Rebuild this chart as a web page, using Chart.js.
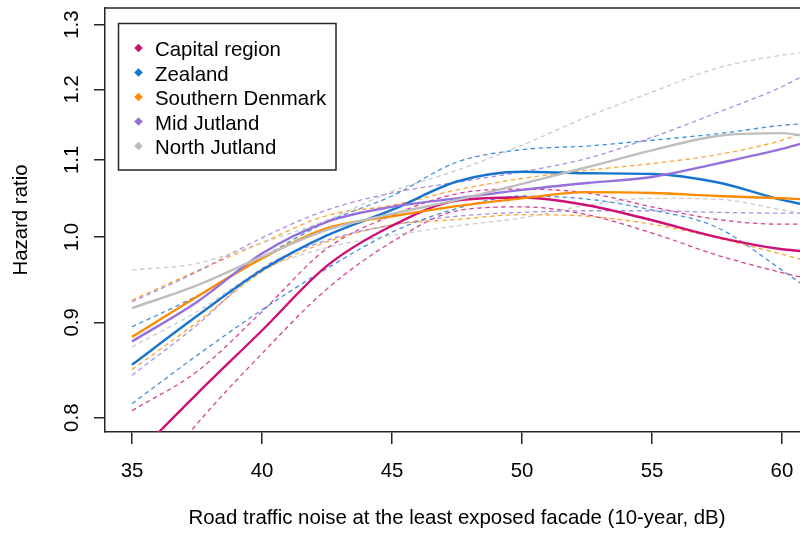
<!DOCTYPE html>
<html>
<head>
<meta charset="utf-8">
<script src="https://cdn.jsdelivr.net/npm/chart.js@4/dist/chart.umd.min.js"></script>
<style>
  html, body { margin: 0; padding: 0; background: #ffffff; overflow: hidden; }
  #wrap { width: 800px; height: 536px; overflow: hidden; }
  canvas { display: block; }
</style>
</head>
<body>
<div id="wrap"><canvas id="chart" width="809" height="536"></canvas></div>
<script>
// Road traffic noise (dB) at which the spline curves are evaluated
const noise = [35, 37.5, 40, 42.5, 45, 47.5, 50, 52.5, 55, 57.5, 60, 60.7];

// Hazard ratios: estimate with lower / upper 95% limits, per region
const capitalEst  = [0.760, 0.824, 0.891, 0.965, 1.014, 1.046, 1.050, 1.040, 1.021, 1.000, 0.985, 0.983];
const capitalLow  = [0.719, 0.794, 0.866, 0.938, 0.994, 1.033, 1.038, 1.028, 1.005, 0.978, 0.957, 0.952];
const capitalHigh = [0.807, 0.847, 0.912, 0.986, 1.027, 1.055, 1.061, 1.056, 1.038, 1.022, 1.016, 1.016];

const zealandEst  = [0.854, 0.907, 0.960, 1.002, 1.034, 1.071, 1.084, 1.082, 1.081, 1.070, 1.047, 1.042];
const zealandLow  = [0.814, 0.864, 0.914, 0.962, 1.006, 1.036, 1.052, 1.048, 1.034, 1.012, 0.960, 0.945];
const zealandHigh = [0.895, 0.930, 0.975, 1.019, 1.052, 1.097, 1.114, 1.119, 1.127, 1.136, 1.148, 1.150];

const southEst  = [0.884, 0.929, 0.974, 1.011, 1.026, 1.039, 1.049, 1.057, 1.056, 1.052, 1.049, 1.048];
const southLow  = [0.849, 0.900, 0.958, 0.994, 1.015, 1.022, 1.028, 1.026, 1.016, 0.999, 0.979, 0.973];
const southHigh = [0.925, 0.959, 0.993, 1.027, 1.040, 1.060, 1.075, 1.086, 1.095, 1.107, 1.127, 1.136];

const midEst  = [0.879, 0.923, 0.980, 1.019, 1.038, 1.049, 1.060, 1.069, 1.077, 1.095, 1.115, 1.122];
const midLow  = [0.843, 0.897, 0.962, 0.996, 1.015, 1.026, 1.031, 1.033, 1.033, 1.031, 1.030, 1.030];
const midHigh = [0.923, 0.958, 0.999, 1.034, 1.056, 1.070, 1.084, 1.102, 1.131, 1.166, 1.204, 1.218];

const northEst  = [0.916, 0.942, 0.976, 1.009, 1.029, 1.047, 1.068, 1.090, 1.113, 1.133, 1.137, 1.134];
const northLow  = [0.873, 0.912, 0.960, 0.987, 1.002, 1.014, 1.024, 1.040, 1.049, 1.048, 1.034, 1.030];
const northHigh = [0.960, 0.968, 0.993, 1.021, 1.058, 1.086, 1.120, 1.160, 1.196, 1.232, 1.252, 1.255];

const regionNames  = ['Capital region', 'Zealand', 'Southern Denmark', 'Mid Jutland', 'North Jutland'];
const regionColors = ['#CD1076', '#1874CD', '#FF8C00', '#9370DB', '#BEBEBE'];

const xTicks  = [35, 40, 45, 50, 55, 60];
const hrTicks = [0.8, 0.9, 1.0, 1.1, 1.2, 1.3];

const xTitle = 'Road traffic noise at the least exposed facade (10-year, dB)';
const yTitle = 'Hazard ratio';

const FONT = '"Liberation Sans", Arial, Helvetica, sans-serif';
const FONT_SIZE = 20.4;
const INK = '#262626';

const regionSeries = [
  [capitalEst, capitalLow, capitalHigh],
  [zealandEst, zealandLow, zealandHigh],
  [southEst, southLow, southHigh],
  [midEst, midLow, midHigh],
  [northEst, northLow, northHigh]
];

function toPoints(values) {
  return noise.map((x, i) => ({ x: x, y: values[i] }));
}

function withAlpha(hex, a) {
  const n = parseInt(hex.slice(1), 16);
  return 'rgba(' + (n >> 16) + ',' + ((n >> 8) & 255) + ',' + (n & 255) + ',' + a + ')';
}

const datasets = [];
regionSeries.forEach((series, r) => {
  const [est, low, high] = series;
  // solid estimate; later regions sit on top
  datasets.push({
    label: regionNames[r],
    data: toPoints(est),
    borderColor: regionColors[r],
    borderWidth: 2.4,
    order: 5 - r,
    clip: 0
  });
  [low, high].forEach(ci => {
    datasets.push({
      label: regionNames[r] + ' CI',
      data: toPoints(ci),
      borderColor: withAlpha(regionColors[r], 0.8),
      borderWidth: 1.3,
      borderDash: [4.5, 3.5],
      order: 20 - r,
      clip: 0
    });
  });
});

// Box top edge, upright y tick labels and the boxed legend
const framePlugin = {
  id: 'frame',
  afterDraw(chart) {
    const { ctx, chartArea: a, scales } = chart;
    ctx.save();
    ctx.strokeStyle = INK;
    ctx.lineWidth = 1.5;
    ctx.beginPath();
    ctx.moveTo(a.left, a.top);
    ctx.lineTo(a.right, a.top);
    ctx.stroke();

    ctx.fillStyle = '#000';
    ctx.font = FONT_SIZE + 'px ' + FONT;
    ctx.textAlign = 'center';
    ctx.textBaseline = 'alphabetic';
    hrTicks.forEach(v => {
      const py = scales.y.getPixelForValue(v);
      ctx.save();
      ctx.translate(78, py);
      ctx.rotate(-Math.PI / 2);
      ctx.fillText(v.toFixed(1), 0, 0);
      ctx.restore();
    });

    // legend
    ctx.fillStyle = '#ffffff';
    ctx.fillRect(118.5, 23.5, 217.5, 146.5);
    ctx.strokeRect(118.5, 23.5, 217.5, 146.5);
    ctx.textAlign = 'left';
    regionNames.forEach((name, i) => {
      const base = 56 + i * 24.5;
      const cy = base - 8;
      const cx = 138.5;
      const s = 4.3;
      ctx.fillStyle = regionColors[i];
      ctx.beginPath();
      ctx.moveTo(cx, cy - s);
      ctx.lineTo(cx + s, cy);
      ctx.lineTo(cx, cy + s);
      ctx.lineTo(cx - s, cy);
      ctx.closePath();
      ctx.fill();
      ctx.fillStyle = '#000';
      ctx.fillText(name, 155, base);
    });
    ctx.restore();
  }
};

new Chart(document.getElementById('chart'), {
  type: 'line',
  data: { datasets: datasets },
  plugins: [framePlugin],
  options: {
    responsive: false,
    animation: false,
    devicePixelRatio: 1,
    layout: { padding: { left: 0, top: 8, right: 0, bottom: 0 } },
    plugins: { legend: { display: false }, tooltip: { enabled: false } },
    elements: {
      point: { radius: 0, hoverRadius: 0 },
      line: { cubicInterpolationMode: 'monotone', fill: false }
    },
    scales: {
      x: {
        type: 'linear',
        bounds: 'data',
        min: 33.962,
        max: 61.04,
        afterBuildTicks: s => { s.ticks = xTicks.map(v => ({ value: v })); },
        afterFit: s => { s.height = 104; },
        grid: { drawOnChartArea: false, drawTicks: true, tickLength: 12, color: INK, lineWidth: 1.5 },
        border: { display: true, color: INK, width: 1.5 },
        ticks: { font: { family: FONT, size: FONT_SIZE }, color: '#000', padding: 15, maxRotation: 0, autoSkip: false },
        title: { display: true, text: xTitle, font: { family: FONT, size: FONT_SIZE }, color: '#000', padding: { top: 0, bottom: 5.5 } }
      },
      y: {
        type: 'logarithmic',
        bounds: 'data',
        min: 0.786,
        max: 1.327,
        afterBuildTicks: s => { s.ticks = hrTicks.map(v => ({ value: v })); },
        afterFit: s => { s.width = 105; },
        grid: { drawOnChartArea: false, drawTicks: true, tickLength: 11, color: INK, lineWidth: 1.5 },
        border: { display: true, color: INK, width: 1.5 },
        ticks: { display: false },
        title: { display: true, text: yTitle, font: { family: FONT, size: FONT_SIZE }, color: '#000', padding: { top: 9, bottom: 0 } }
      }
    }
  }
});
</script>
</body>
</html>
